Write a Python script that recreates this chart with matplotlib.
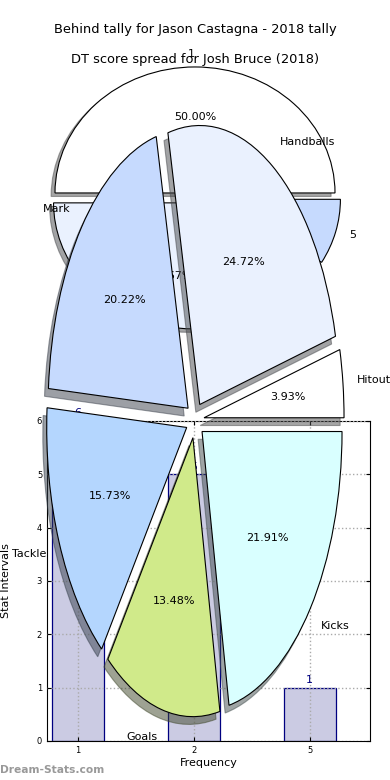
import matplotlib
matplotlib.use("Agg")
import matplotlib.pyplot as plt

# bar chart data
bar_cats = ["1", "2", "5"]
bar_vals = [6, 5, 1]

# behind tally pie
behind_labels = ["1", "2", "5"]
behind_vals = [6, 5, 1]
behind_colors = ["#ffffff", "#eaf1fe", "#c6dafe"]

# DT score spread pie
dt_labels = ["Hitout", "Handballs", "Mark", "Tackle", "Goals", "Kicks"]
dt_vals = [3.93, 24.72, 20.22, 15.73, 13.48, 21.91]
dt_colors = ["#ffffff", "#eaf1fe", "#c6dafe", "#b4d6fe", "#d0ea8a", "#d9ffff"]

W, H = 390, 780
fig = plt.figure(figsize=(3.9, 7.8), dpi=100)

def box(x0, y0, x1, y1):
    return [x0 / W, (H - y1) / H, (x1 - x0) / W, (y1 - y0) / H]

# --- bar chart (bottom layer)
ax = fig.add_axes(box(47, 421, 370, 741))
pos = list(range(len(bar_cats)))
ax.bar(pos, bar_vals, width=0.45, color="#cbcbe3", edgecolor="#000080", linewidth=0.9)
for p, v in zip(pos, bar_vals):
    ax.text(p, v + 0.05, str(v), ha="center", va="bottom", color="#000080", fontsize=8)
ax.set_xticks(pos)
ax.set_xticklabels(bar_cats)
ax.set_xlim(-0.265, 2.52)
ax.set_ylim(0, 6)
ax.set_axisbelow(False)
ax.grid(True, linestyle=":", color="#aaaaaa", linewidth=1)
ax.tick_params(labelsize=6, direction="in", length=3, top=True, right=True)
ax.set_xlabel("Frequency", fontsize=8, labelpad=2)
ax.set_ylabel("Stat Intervals", fontsize=8)
ax.yaxis.set_label_coords(-0.112, 0.5)

# --- behind tally pie
ax2 = fig.add_axes(box(20, 40.5, 370, 355.5))
ax2.pie(behind_vals, labels=behind_labels, colors=behind_colors, autopct="%1.2f%%",
        startangle=0, explode=(0.04, 0.04, 0.04), shadow=True,
        wedgeprops=dict(edgecolor="black", linewidth=0.8),
        textprops=dict(fontsize=8))
ax2.set_aspect("auto")
ax2.set_xlim(-1.25, 1.25)
ax2.set_ylim(-1.25, 1.25)

# --- DT score pie (top layer)
ax3 = fig.add_axes(box(20, 71.25, 370, 768.75))
ax3.pie(dt_vals, labels=dt_labels, colors=dt_colors, autopct="%1.2f%%",
        startangle=0, explode=[0.065] * 6, shadow=True,
        wedgeprops=dict(edgecolor="black", linewidth=0.8),
        textprops=dict(fontsize=8))
ax3.set_aspect("auto")
ax3.set_xlim(-1.25, 1.25)
ax3.set_ylim(-1.25, 1.25)

fig.text(0.5, 1 - 30 / H, "Behind tally for Jason Castagna - 2018 tally",
         ha="center", va="center", fontsize=9.35)
fig.text(0.5, 1 - 60 / H, "DT score spread for Josh Bruce (2018)",
         ha="center", va="center", fontsize=9.35)
fig.text(0.0, 1 - 770 / H, "Dream-Stats.com", ha="left", va="center",
         fontsize=7.7, color="#999999", fontweight="bold")

fig.savefig("out.png", dpi=100)
